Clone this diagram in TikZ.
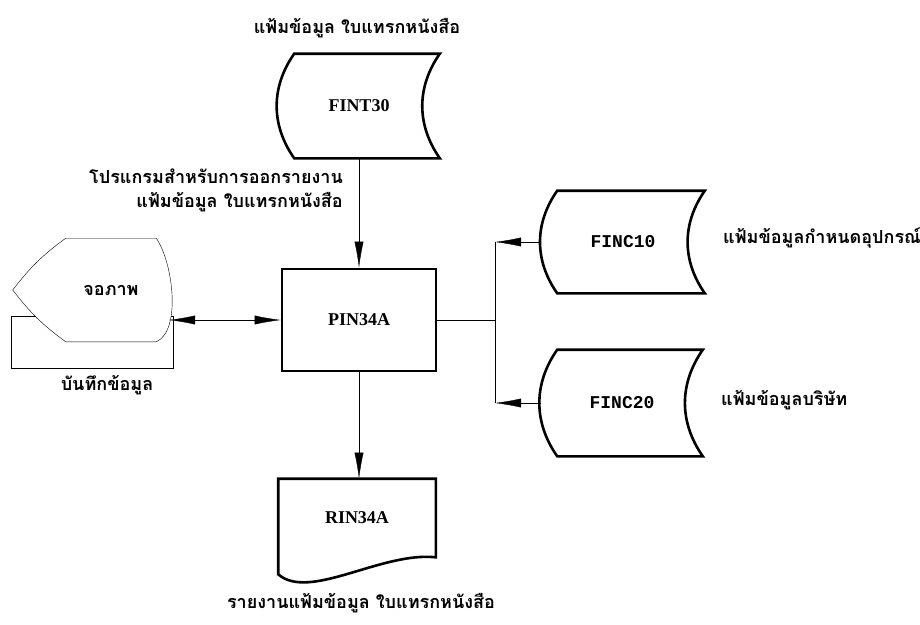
\documentclass[tikz,border=0pt]{standalone}
\usepackage{fontspec}
\setmainfont{Liberation Serif}
\newfontfamily\thaifont[Script=Thai]{Loma}
\newfontfamily\monofont{Liberation Mono}
\usetikzlibrary{arrows.meta, backgrounds}

\begin{document}
\begin{tikzpicture}[x=1pt, y=-1pt, line width=2.6pt,
  thai/.style={inner sep=0pt, font=\thaifont\bfseries\fontsize{18}{24}\selectfont},
  boxtext/.style={inner sep=0pt, font=\bfseries\fontsize{18}{22}\selectfont},
  filetext/.style={inner sep=0pt, font=\monofont\bfseries\fontsize{18}{22}\selectfont},
  arr/.style={-{Latex[length=26pt,width=9pt]}},
  arrboth/.style={{Latex[length=26pt,width=9pt]}-{Latex[length=26pt,width=9pt]}}]
  %frame
  \useasboundingbox (0,0) rectangle (920,624);

  %program
  \node[boxtext, draw, minimum width=154, minimum height=102] (pin) at (359,320) {PIN34A};

  %files
  \node[boxtext, minimum width=159, minimum height=102] (fint) at (359,106) {FINT30};
  \node[filetext, minimum width=161, minimum height=100] (finc1) at (623,242) {FINC10};
  \node[filetext, minimum width=159, minimum height=104] (finc2) at (622,403) {FINC20};
  \foreach \f in {fint,finc1,finc2}
    \draw ([xshift=16pt]\f.north west) to[out=235,in=125] ([xshift=16pt]\f.south west)
      -- (\f.south east) to[out=125,in=235] (\f.north east) -- cycle;

  %report
  \node[boxtext, minimum width=155, minimum height=76] (rin) at (357,518) {RIN34A};
  \draw (rin.north west) -- (rin.north east) -- (rin.south east)
    .. controls +(-54,-6) and +(31,27) .. ([yshift=-17pt]rin.south west) -- cycle;

  %screen and keyboard
  \node[thai, minimum width=88, minimum height=101] (scr) at (111,290) {จอภาพ};
  \node[minimum width=159, minimum height=50] (kbd) at (92,342) {};
  \begin{pgfonlayer}{background}
    \draw (kbd.south west) rectangle (kbd.north east);
    \draw[fill=white] (scr.north west) -- (scr.north east)
      .. controls +(17,25) and +(25,-11) .. (scr.south east) -- (scr.south west)
      to[bend left=8] ([xshift=-53pt]scr.west) to[bend left=8] (scr.north west) -- cycle;
  \end{pgfonlayer}

  %labels
  \node[thai] (fintlbl) at (357,28) {แฟ้มข้อมูล ใบแทรกหนังสือ};
  \node[thai, align=right, anchor=east] (pinlbl) at (343,190)
    {โปรแกรมสำหรับการออกรายงาน\\แฟ้มข้อมูล ใบแทรกหนังสือ};
  \node[thai] (kbdlbl) at (107,385) {บันทึกข้อมูล};
  \node[thai, anchor=west] (finc1lbl) at (723,238) {แฟ้มข้อมูลกำหนดอุปกรณ์};
  \node[thai, anchor=west] (finc2lbl) at (721,400) {แฟ้มข้อมูลบริษัท};
  \node[thai] (rinlbl) at (361,603) {รายงานแฟ้มข้อมูล ใบแทรกหนังสือ};

  %connectors
  \coordinate (jn) at (495,320);
  \coordinate (scrport) at (169,320);
  \draw[arr] (fint.south) -- (pin.north);
  \draw[arr] (pin.south) -- (pin.south |- rin.north);
  \draw[arrboth] (scrport) -- (pin.west);
  \draw (pin.east) -- (jn);
  \draw (jn |- finc1.west) -- (jn |- finc2.west);
  \draw[arr] (finc1.west) -- (jn |- finc1.west);
  \draw[arr] (finc2.west) -- (jn |- finc2.west);
\end{tikzpicture}
\end{document}
